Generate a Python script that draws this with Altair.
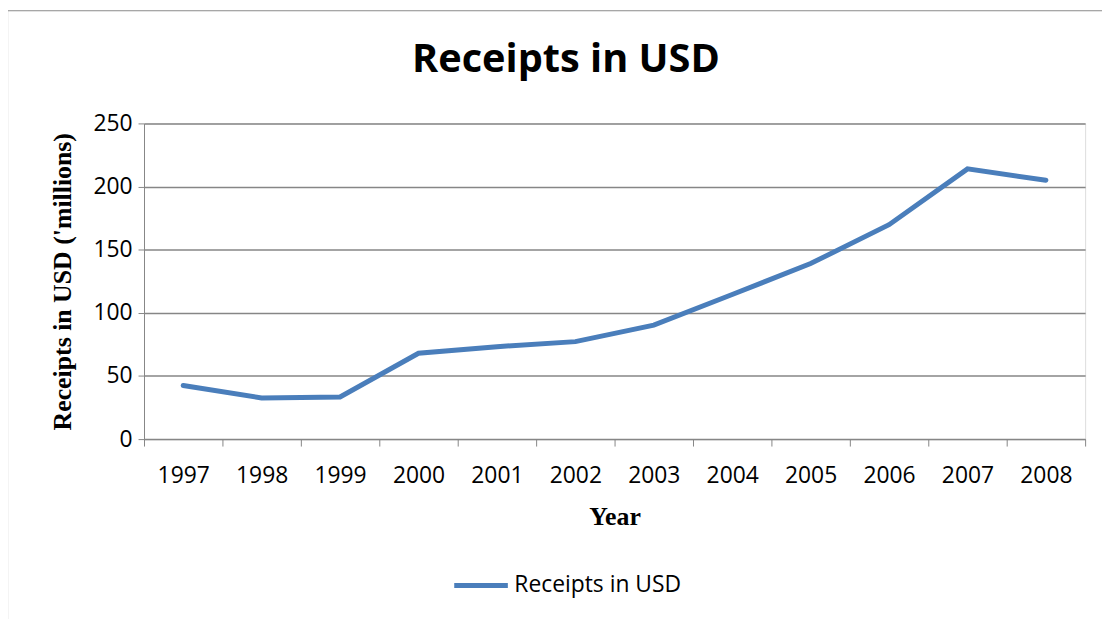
import altair as alt
import pandas as pd

years = ["1997", "1998", "1999", "2000", "2001", "2002", "2003", "2004", "2005", "2006", "2007", "2008"]
receipts = [42.5, 32.6, 33.4, 68.0, 73.2, 77.2, 90.3, 114.5, 139.0, 169.8, 214.0, 205.0]
series_name = "Receipts in USD"
y_ticks = [0, 50, 100, 150, 200, 250]

df = pd.DataFrame({"Year": years, "Receipts": receipts, "Series": [series_name] * len(years)})

GRID = "#868686"
LABEL_FONT = "Open Sans"
SERIF = "Liberation Serif"

line = alt.Chart(df).mark_line(strokeWidth=5, strokeCap="round", strokeJoin="miter").encode(
    x=alt.X(
        "Year:N",
        bandPosition=0.5,
        scale=alt.Scale(type="band", paddingInner=0, paddingOuter=0),
        axis=alt.Axis(
            title="Year",
            labelAngle=0,
            tickBand="extent",
            grid=False,
            domainColor=GRID,
            tickColor=GRID,
            tickSize=7,
            labelFont=LABEL_FONT,
            labelFontSize=23,
            labelColor="#000000",
            labelPadding=19,
            titleFont=SERIF,
            titleFontSize=26,
            titleFontWeight="bold",
            titleColor="#000000",
            titlePadding=16,
        ),
    ),
    y=alt.Y(
        "Receipts:Q",
        scale=alt.Scale(domain=[0, 250], nice=False),
        axis=alt.Axis(
            values=y_ticks,
            title="Receipts in USD ('millions)",
            grid=True,
            gridColor=GRID,
            gridWidth=1.5,
            domainColor=GRID,
            tickColor=GRID,
            tickSize=6,
            labelFont=LABEL_FONT,
            labelFontSize=23,
            labelColor="#000000",
            labelPadding=6,
            titleFont=SERIF,
            titleFontSize=26,
            titleFontWeight="bold",
            titleColor="#000000",
            titlePadding=18,
        ),
    ),
    color=alt.Color(
        "Series:N",
        scale=alt.Scale(range=["#4a7ebb"]),
        legend=alt.Legend(
            title=None,
            orient="none",
            legendX=310,
            legendY=436,
            symbolType="stroke",
            symbolSize=2916,
            symbolStrokeWidth=5,
            labelFont=LABEL_FONT,
            labelFontSize=23,
            labelColor="#000000",
            labelOffset=4,
            labelLimit=400,
        ),
    ),
)

border = alt.Chart(pd.DataFrame({"a": [0]})).mark_rect(
    filled=False, stroke="#8a8a8a", strokeWidth=1.2
).encode(
    x=alt.value(-137.5), x2=alt.value(1100), y=alt.value(-113.5), y2=alt.value(700)
)

chart = alt.layer(border, line).properties(
    width=948,
    height=318,
    padding={"left": 137, "top": 114, "right": 17, "bottom": 185},
    autosize=alt.AutoSizeParams(type="none"),
    title=alt.TitleParams(
        text="Receipts in USD",
        font=LABEL_FONT,
        fontSize=40,
        fontWeight="bold",
        color="#000000",
        anchor="middle",
        baseline="alphabetic",
        dx=-49,
        offset=0,
        dy=102,
    ),
).configure_view(stroke=None).configure(background="white")

chart.save("out.html", embed_options={"renderer": "svg", "actions": False})
